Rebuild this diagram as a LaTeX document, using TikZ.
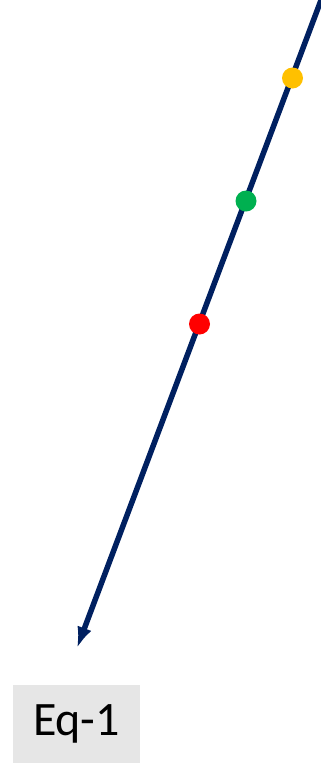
\documentclass[tikz,border=0pt]{standalone}
\usepackage{fontspec}
\setmainfont{Carlito}
\usepackage{xcolor}
\usetikzlibrary{arrows.meta}
\definecolor{eqnavy}{HTML}{002060}
\definecolor{dotyellow}{HTML}{FFC000}
\definecolor{dotgreen}{HTML}{00B050}
\definecolor{dotred}{HTML}{FF0000}
\definecolor{labelgray}{HTML}{E6E6E6}

\tikzset{
  dot/.style={circle, inner sep=0pt, minimum size=21pt},
  eqlabel/.style={fill=labelgray, minimum width=127pt, minimum height=78pt, inner sep=0pt, font=\fontsize{48}{54}\selectfont}
}

\begin{document}
\begin{tikzpicture}[x=1pt, y=-1pt, >={Latex[length=21pt, width=15pt]}]
    \useasboundingbox (0,0) rectangle (321,764);

    % Axis line
    \coordinate (top) at (322.6,-4);
    \coordinate (tip) at (77,648);
    \draw[->, line width=5.5pt, eqnavy] (top) -- (tip);

    % Points on the line
    \node[dot, fill=dotyellow] (yellow) at (292.5,78) {};
    \node[dot, fill=dotgreen] (green) at (246,201) {};
    \node[dot, fill=dotred] (red) at (199.5,324) {};

    % Label
    \node[eqlabel] (eq) at (76.5,724) {Eq-1};
\end{tikzpicture}
\end{document}
